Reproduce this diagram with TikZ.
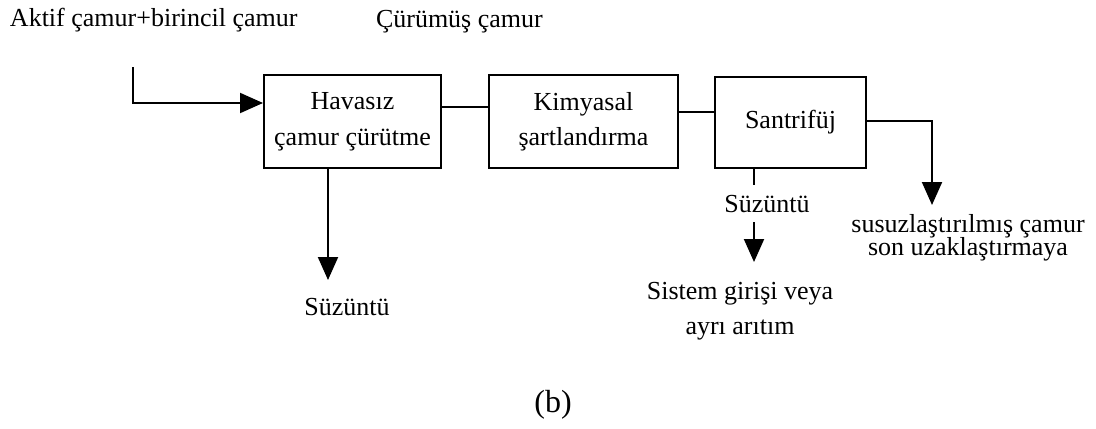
\documentclass[tikz,border=0pt]{standalone}
\usepackage{fontspec}
\setmainfont{Liberation Serif}
\usetikzlibrary{arrows.meta}

\tikzset{
	kutu/.style={draw, align=center, inner sep=0pt},
	yazi/.style={inner sep=0pt, align=center},
	ok/.style={-{Triangle[length=11.5pt,width=10pt]}},
}

\begin{document}
\begin{tikzpicture}[x=0.5pt, y=-0.5pt, line width=1pt, font=\fontsize{13}{15.6}\selectfont]
		\useasboundingbox (0,0) rectangle (1096,428);
		\def\xa{328}
		\def\xb{754}
		\def\xc{932}
		% kutular
		\node[kutu, minimum width=88.5pt, minimum height=46.5pt] (havasiz) at (352.5,121.5) {Havasız\\[2.4pt]çamur çürütme};
		\node[kutu, minimum width=94.5pt, minimum height=46.5pt] (kimya) at (583.5,121.5) {Kimyasal\\[1.9pt]şartlandırma};
		\node[kutu, minimum width=75.5pt, minimum height=45.5pt] (santri) at (790.5,122.5) {Santrifüj};
		% yazilar
		\node[yazi, anchor=base west] (aktif) at (9,26) {Aktif çamur+birincil çamur};
		\node[yazi, anchor=base west] (curumus) at (375,27) {Çürümüş çamur};
		\node[yazi, anchor=base] (suz1) at (347,315) {Süzüntü};
		\node[yazi, anchor=base, inner ysep=4.5pt] (suz2) at (767,212) {Süzüntü};
		\node[yazi] (sistem) at (740,311.5) {Sistem girişi veya\\[1.9pt]ayrı arıtım};
		\node[yazi] (susuz) at (968,237.5) {susuzlaştırılmış çamur\\[-4.1pt]son uzaklaştırmaya};
		\node[yazi, anchor=base, font=\fontsize{16}{19}\selectfont] (b) at (553,412) {(b)};
		% baglantilar
		\coordinate (giris) at (133,67);
		\coordinate (suz1uc) at (\xa,280);
		\coordinate (suz2uc) at (\xb,262);
		\coordinate (cikis) at (\xc,205);
		\draw[ok] (giris) |- (havasiz.west |- 0,103);
		\draw (havasiz.east |- 0,107) -- (kimya.west |- 0,107);
		\draw (kimya.east |- 0,112) -- (santri.west |- 0,112);
		\draw[ok] (santri.east |- 0,121) -| (cikis);
		\draw[ok] (havasiz.south -| \xa,0) -- (suz1uc);
		\draw (santri.south -| \xb,0) -- (\xb,0 |- suz2.north);
		\draw[ok] (\xb,0 |- suz2.south) -- (suz2uc);
	\end{tikzpicture}
\end{document}
